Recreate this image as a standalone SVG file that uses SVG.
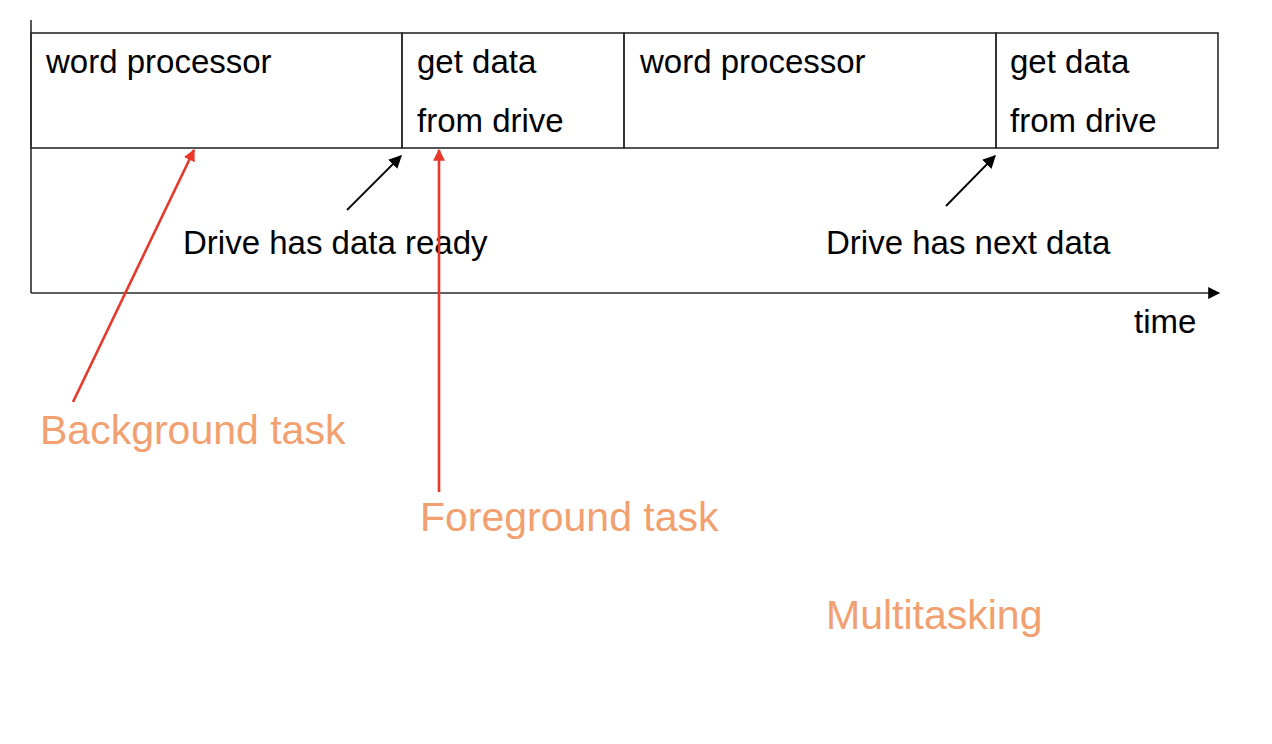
<svg xmlns="http://www.w3.org/2000/svg" width="1272" height="744" viewBox="0 0 1272 744">
<style>
.ln{stroke:#2b2b2b;stroke-width:1.6;fill:none}
.t{font-family:"Liberation Sans",Arial,sans-serif;font-size:33px;fill:#000}
.o{font-family:"Liberation Sans",Arial,sans-serif;font-size:41px;fill:#f3a070}
.red{stroke:#e8372b;stroke-width:2.6;fill:none}
.blk{stroke:#000;stroke-width:1.8;fill:none}
</style>
<defs>
<marker id="ahb" viewBox="0 0 10 10" refX="9" refY="5" markerWidth="13" markerHeight="13" orient="auto" markerUnits="userSpaceOnUse"><path d="M0,0 L10,5 L0,10 z" fill="#000"/></marker>
<marker id="ahr" viewBox="0 0 10 10" refX="9" refY="5" markerWidth="12" markerHeight="12" orient="auto" markerUnits="userSpaceOnUse"><path d="M0,0 L10,5 L0,10 z" fill="#e8372b"/></marker>
<marker id="ax" viewBox="0 0 10 10" refX="9" refY="5" markerWidth="14" markerHeight="12" orient="auto" markerUnits="userSpaceOnUse"><path d="M0,0 L10,5 L0,10 z" fill="#000"/></marker>
</defs>
<g id="axes">
<line class="ln" x1="31" y1="20" x2="31" y2="293"/>
<line class="ln" x1="31" y1="293" x2="1219" y2="293" marker-end="url(#ax)"/>
<text class="t" x="1134" y="333">time</text>
</g>
<g id="wp1">
<rect class="ln" x="31" y="33" width="371" height="115"/>
<text class="t" x="46" y="73">word processor</text>
</g>
<g id="gd1">
<rect class="ln" x="402" y="33" width="222" height="115"/>
<text class="t" x="417" y="73">get data</text>
<text class="t" x="417" y="132">from drive</text>
</g>
<g id="wp2">
<rect class="ln" x="624" y="33" width="372" height="115"/>
<text class="t" x="640" y="73">word processor</text>
</g>
<g id="gd2">
<rect class="ln" x="996" y="33" width="222" height="115"/>
<text class="t" x="1010" y="73">get data</text>
<text class="t" x="1010" y="132">from drive</text>
</g>
<g id="labels">
<text class="t" x="183" y="254">Drive has data ready</text>
<text class="t" x="826" y="254">Drive has next data</text>
<text class="o" x="40" y="444">Background task</text>
<text class="o" x="420" y="531">Foreground task</text>
<text class="o" x="826" y="629">Multitasking</text>
</g>
<g id="connectors">
<line class="blk" x1="347" y1="210" x2="401" y2="156" marker-end="url(#ahb)"/>
<line class="blk" x1="946" y1="206" x2="995" y2="156" marker-end="url(#ahb)"/>
<line class="red" x1="73" y1="402" x2="194" y2="150" marker-end="url(#ahr)"/>
<line class="red" x1="439" y1="492" x2="439" y2="150" marker-end="url(#ahr)"/>
</g>
</svg>
